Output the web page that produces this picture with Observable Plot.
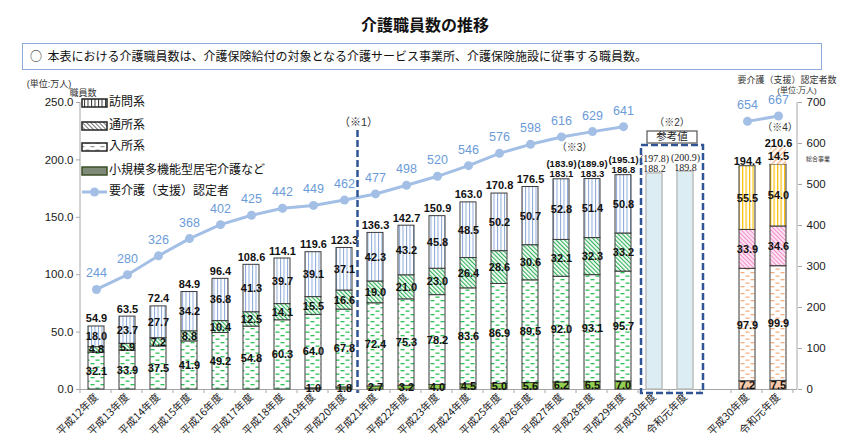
<!DOCTYPE html>
<html><head><meta charset="utf-8">
<script src="https://cdn.jsdelivr.net/npm/d3@7"></script>
<script src="https://cdn.jsdelivr.net/npm/@observablehq/plot@0.6"></script>
<style>
body{margin:0;background:#fff;font-family:"Noto Sans CJK JP",sans-serif;color:#111;}
#wrap{position:relative;width:850px;height:442px;overflow:hidden;background:#fff}
#title{position:absolute;left:0;top:14px;width:850px;text-align:center;font-size:16px;font-weight:bold;line-height:20px}
#note{position:absolute;left:22px;top:43px;width:800px;height:27px;border:1.5px solid #8eaadb;box-sizing:border-box;font-size:12px;line-height:24px;padding-left:7px;white-space:nowrap}
#chart{position:absolute;left:0;top:75px}
#defs{position:absolute;width:0;height:0;left:0;top:0}
</style></head>
<body>
<svg id="defs" width="0" height="0"><defs>
<pattern id="pHomonL" width="3.5" height="4" patternUnits="userSpaceOnUse"><rect width="3.5" height="4" fill="#fff"/><rect x="0" width="1" height="4" fill="#8eaadb"/></pattern>
<pattern id="pTsushoL" width="3" height="3" patternUnits="userSpaceOnUse" patternTransform="rotate(-45)"><rect width="3" height="3" fill="#fff"/><rect width="1.2" height="3" fill="#33b35c"/></pattern>
<pattern id="pNyushoL" width="10" height="7" patternUnits="userSpaceOnUse"><rect width="10" height="7" fill="#fff"/><rect x="0.5" y="1" width="4" height="1.3" fill="#2ec25a"/><rect x="5.5" y="4.5" width="4" height="1.3" fill="#2ec25a"/></pattern>
<pattern id="pHomonR" width="3.5" height="4" patternUnits="userSpaceOnUse"><rect width="3.5" height="4" fill="#fff"/><rect x="0" width="1.2" height="4" fill="#ffc000"/></pattern>
<pattern id="pTsushoR" width="3" height="3" patternUnits="userSpaceOnUse" patternTransform="rotate(-45)"><rect width="3" height="3" fill="#fde4f2"/><rect width="1" height="3" fill="#f48fc8"/></pattern>
<pattern id="pNyushoR" width="10" height="7" patternUnits="userSpaceOnUse"><rect width="10" height="7" fill="#fff"/><rect x="0.5" y="1" width="4" height="1.3" fill="#f4b183"/><rect x="5.5" y="4.5" width="4" height="1.3" fill="#f4b183"/></pattern>
<pattern id="pSogo" width="4" height="4" patternUnits="userSpaceOnUse" patternTransform="rotate(45)"><rect width="4" height="4" fill="#fff"/><rect width="1.3" height="4" fill="#f4b183"/></pattern>
<pattern id="gHomon" width="3.5" height="4" patternUnits="userSpaceOnUse"><rect width="3.5" height="4" fill="#fff"/><rect x="0" width="1" height="4" fill="#333"/></pattern>
<pattern id="gTsusho" width="3" height="3" patternUnits="userSpaceOnUse" patternTransform="rotate(-45)"><rect width="3" height="3" fill="#fff"/><rect width="1" height="3" fill="#777"/></pattern>
<pattern id="gNyusho" width="10" height="7" patternUnits="userSpaceOnUse"><rect width="10" height="7" fill="#fff"/><rect x="0.5" y="1" width="4" height="1.2" fill="#999"/><rect x="5.5" y="4.5" width="4" height="1.2" fill="#999"/></pattern>
</defs></svg>
<div id="wrap">
<div id="title">介護職員数の推移</div>
<div id="note">○&nbsp;&nbsp;本表における介護職員数は、介護保険給付の対象となる介護サービス事業所、介護保険施設に従事する職員数。</div>
<div id="chart"></div>
</div>
<script>
// ---------- data ----------
const years = ["平成12年度","平成13年度","平成14年度","平成15年度","平成16年度","平成17年度","平成18年度","平成19年度","平成20年度","平成21年度","平成22年度","平成23年度","平成24年度","平成25年度","平成26年度","平成27年度","平成28年度","平成29年度"];
const shokibo = [0,0,0,0,0,0,0,1.0,1.8,2.7,3.2,4.0,4.5,5.0,5.6,6.2,6.5,7.0];
const nyusho  = [32.1,33.9,37.5,41.9,49.2,54.8,60.3,64.0,67.8,72.4,75.3,78.2,83.6,86.9,89.5,92.0,93.1,95.7];
const tsusho  = [4.8,5.9,7.2,8.8,10.4,12.5,14.1,15.5,16.6,19.0,21.0,23.0,26.4,28.6,30.6,32.1,32.3,33.2];
const homon   = [18.0,23.7,27.7,34.2,36.8,41.3,39.7,39.1,37.1,42.3,43.2,45.8,48.5,50.2,50.7,52.8,51.4,50.8];
const totals  = [54.9,63.5,72.4,84.9,96.4,108.6,114.1,119.6,123.3,136.3,142.7,150.9,163.0,170.8,176.5,183.1,183.3,186.8];
const totalsAlt = ["","","","","","","","","","","","","","","","(183.9)","(189.9)","(195.1)"];
const ninteisha = [244,280,326,368,402,425,442,449,462,477,498,520,546,576,598,616,629,641];

const refYears = ["平成30年度","令和元年度"];
const refValues = [188.2,189.8];
const refAlt = ["(197.8)","(200.9)"];

const newYears = ["平成30年度","令和元年度"];
const newShokibo = [7.2,7.5];
const newNyusho  = [97.9,99.9];
const newTsusho  = [33.9,34.6];
const newHomon   = [55.5,54.0];
const newSogo    = [0,14.5];
const newTotals  = [194.4,210.6];
const newNintei  = [654,667];

const legendLabels = ["訪問系","通所系","入所系","小規模多機能型居宅介護など","要介護（支援）認定者"];
const leftTicks  = [0,50,100,150,200,250];
const rightTicks = [0,100,200,300,400,500,600,700];
const RATIO = 700/250;

// ---------- derived tables ----------
const refKeys = refYears.map(y => "参考:" + y);
const newKeys = newYears.map(y => "新:" + y);
const keys = [...years, ...refKeys, "空", ...newKeys];
const tickLabel = k => k === "空" ? "" : k.replace(/^.*:/, "");

const leftFills = ["#92d050","url(#pNyushoL)","url(#pTsushoL)","url(#pHomonL)"];
const rightFills = ["#f8cbad","url(#pNyushoR)","url(#pTsushoR)","url(#pHomonR)","url(#pSogo)"];

const segRows = [];
years.forEach((y,i) => {
  [shokibo,nyusho,tsusho,homon].forEach((arr,j) => {
    if (arr[i] > 0) segRows.push({key:y, v:arr[i], fill:leftFills[j], stroke:"#3a3a3a"});
  });
});
newYears.forEach((y,i) => {
  [newShokibo,newNyusho,newTsusho,newHomon,newSogo].forEach((arr,j) => {
    if (arr[i] > 0) segRows.push({key:newKeys[i], v:arr[i], fill:rightFills[j], stroke: j===4 ? "none" : "#3a3a3a"});
  });
});

const totalRows = years.map((y,i) => ({key:y, v:totals[i], alt: !!totalsAlt[i], t:(totalsAlt[i] ? totalsAlt[i] + "\n" : "") + totals[i].toFixed(1)}));
const newTotalRows = newKeys.map((k,i) => ({key:k, v:newTotals[i], t:newTotals[i].toFixed(1)}));
const refRows = refKeys.map((k,i) => ({key:k, v:refValues[i], t:refAlt[i] + "\n" + refValues[i].toFixed(1)}));
const lineRows = years.map((y,i) => ({key:y, n:ninteisha[i], g:"a"}))
  .concat(newKeys.map((k,i) => ({key:k, n:newNintei[i], g:"b"})));

const FONT = "'Liberation Sans','Noto Sans CJK JP',sans-serif";
const lineColor = "#a3bfe5";

const plot = Plot.plot({
  width: 850, height: 367,
  marginTop: 27, marginBottom: 53, marginLeft: 80, marginRight: 53,
  style: {fontFamily: FONT, background: "transparent", overflow: "visible", color: "#1a1a1a"},
  x: {domain: keys, paddingInner: 0.48, paddingOuter: 0.24, insetRight: 2},
  y: {domain: [0, 250]},
  color: {type: "identity"},
  marks: [
    Plot.ruleY([0], {stroke: "#a6a6a6"}),
    Plot.axisY(leftTicks, {anchor: "left", tickFormat: d => d.toFixed(1), tickSize: 4, tickPadding: 3, fontSize: 11.5, label: null, stroke: "#a6a6a6"}),
    Plot.axisY(rightTicks.map(v => v / RATIO), {anchor: "right", tickFormat: d => String(Math.round(d * RATIO)), tickSize: 4, tickPadding: 5, fontSize: 11.5, label: null, stroke: "#a6a6a6"}),
    Plot.axisX({tickRotate: -45, tickSize: 0, tickPadding: 6, tickFormat: tickLabel, fontSize: 10.5, label: null, fontFamily: "'Noto Sans CJK JP',sans-serif"}),
    Plot.barY(refRows, {x: "key", y: "v", fill: "#dcedf4", stroke: "#bdbdbd", strokeWidth: 1.5}),
    Plot.barY(segRows, {x: "key", y: "v", fill: d => d.fill, stroke: d => d.stroke, strokeWidth: 1}),
    Plot.text(segRows, Plot.stackY({x: "key", y: "v", text: d => d.v.toFixed(1), fontWeight: "bold", fontSize: 11, fill: "#111"})),
    Plot.text(totalRows.filter(d => !d.alt), {x: "key", y: "v", text: "t", lineAnchor: "bottom", dy: -4, fontWeight: "bold", fontSize: 11, fill: "#111"}),
    Plot.text(totalRows.filter(d => d.alt), {x: "key", y: "v", text: "t", lineAnchor: "bottom", dy: -2, fontWeight: "bold", fontSize: 9.5, lineHeight: 1.05, fill: "#111"}),
    Plot.text(newTotalRows, {x: "key", y: "v", text: "t", lineAnchor: "bottom", dy: -1, fontWeight: "bold", fontSize: 11, fill: "#111"}),
    Plot.text(refRows, {x: "key", y: "v", text: "t", lineAnchor: "bottom", dy: -1, fontSize: 10, lineHeight: 1.0, fill: "#222", fontFamily: "'Liberation Serif','Noto Sans CJK JP',serif"}),
    Plot.line(lineRows, {x: "key", y: d => d.n / RATIO, z: "g", stroke: lineColor, strokeWidth: 3}),
    Plot.dot(lineRows, {x: "key", y: d => d.n / RATIO, r: 4.5, fill: lineColor}),
    Plot.text(lineRows, {x: "key", y: d => d.n / RATIO, text: d => String(d.n), dy: -16, fontSize: 12.5, fill: "#6c9bd8"})
  ]
});
document.getElementById("chart").appendChild(plot);

// ---------- decorations via scales ----------
const svg = d3.select(plot);
const xs = plot.scale("x"), ys = plot.scale("y");
const step = xs.step, bw = xs.bandwidth;
const x0 = xs.range[0];
const cx = k => xs.apply(k) + bw / 2;
const yTop = ys.apply(250), yBot = ys.apply(0);
const g = svg.append("g").attr("font-family", FONT).attr("text-anchor", "middle");
const note = (x, y, s, size, anchor) => g.append("text").attr("x", x).attr("y", y)
  .attr("text-anchor", anchor || "middle").attr("dominant-baseline", "middle")
  .attr("font-size", size).attr("fill", "#333").text(s);

// axis lines
g.append("line").attr("x1", 80).attr("x2", 80).attr("y1", yTop).attr("y2", yBot).attr("stroke", "#a6a6a6");
g.append("line").attr("x1", 797).attr("x2", 797).attr("y1", yTop).attr("y2", yBot).attr("stroke", "#a6a6a6");
// category boundary ticks
d3.range(keys.length + 1).forEach(i => {
  const x = x0 + i * step;
  g.append("line").attr("x1", x).attr("x2", x).attr("y1", yBot).attr("y2", yBot + 4).attr("stroke", "#a6a6a6");
});

const dashBlue = "#2f5597";
// (※1) dashed vertical line between 平成20 and 平成21
const x1div = (cx("平成20年度") + cx("平成21年度")) / 2 - 2;
g.append("line").attr("x1", x1div).attr("x2", x1div).attr("y1", 55).attr("y2", yBot + 4)
  .attr("stroke", dashBlue).attr("stroke-width", 2.5).attr("stroke-dasharray", "7,3");
note(x1div + 1, 48, "（※1）", 11);

// reference box
const rbL = cx(refKeys[0]) - 13, rbR = cx(refKeys[1]) + 18;
g.append("rect").attr("x", rbL).attr("y", 70).attr("width", rbR - rbL).attr("height", yBot + 4 - 70)
  .attr("fill", "none").attr("stroke", dashBlue).attr("stroke-width", 2.5).attr("stroke-dasharray", "7,3");
const rbC = (rbL + rbR) / 2;
g.append("rect").attr("x", rbC - 25).attr("y", 56).attr("width", 50).attr("height", 12).attr("fill", "#fff").attr("stroke", "#555").attr("stroke-width", 1.2);
g.append("text").attr("x", rbC).attr("y", 62.5).attr("text-anchor", "middle").attr("dominant-baseline", "middle")
  .attr("font-size", 10.5).attr("fill", "#222").text("参考値");
note(rbC, 48, "（※2）", 10);

// (※3), (※4), 総合事業
note((cx("平成27年度") + cx("平成28年度")) / 2 - 2, 73, "（※3）", 10);
note(cx(newKeys[1]) + 2, 53, "（※4）", 10);
note(806, 84, "総合事業", 6, "start");

// unit labels
note(49, 10, "(単位:万人)", 9);
note(83, 19, "職員数", 9);
note(787, 6, "要介護（支援）認定者数", 9);
note(797, 16, "(単位:万人)", 8);

// legend
const legFills = ["url(#gHomon)","url(#gTsusho)","url(#gNyusho)","#7f8a78"];
const legY = [28, 51, 72, 96, 117];
legendLabels.forEach((lab, i) => {
  const y = legY[i];
  if (i < 4) {
    g.append("rect").attr("x", 82).attr("y", y - 4).attr("width", 25).attr("height", 8)
      .attr("fill", legFills[i]).attr("stroke", i === 3 ? "#3d4f27" : "#222").attr("stroke-width", 1.5);
  } else {
    g.append("line").attr("x1", 82).attr("x2", 107).attr("y1", y).attr("y2", y).attr("stroke", lineColor).attr("stroke-width", 3);
    g.append("circle").attr("cx", 94.5).attr("cy", y).attr("r", 4.5).attr("fill", lineColor);
  }
  g.append("text").attr("x", 109).attr("y", y).attr("text-anchor", "start").attr("dominant-baseline", "middle")
    .attr("font-size", 12).attr("fill", "#111").text(lab);
});
</script>
</body></html>
